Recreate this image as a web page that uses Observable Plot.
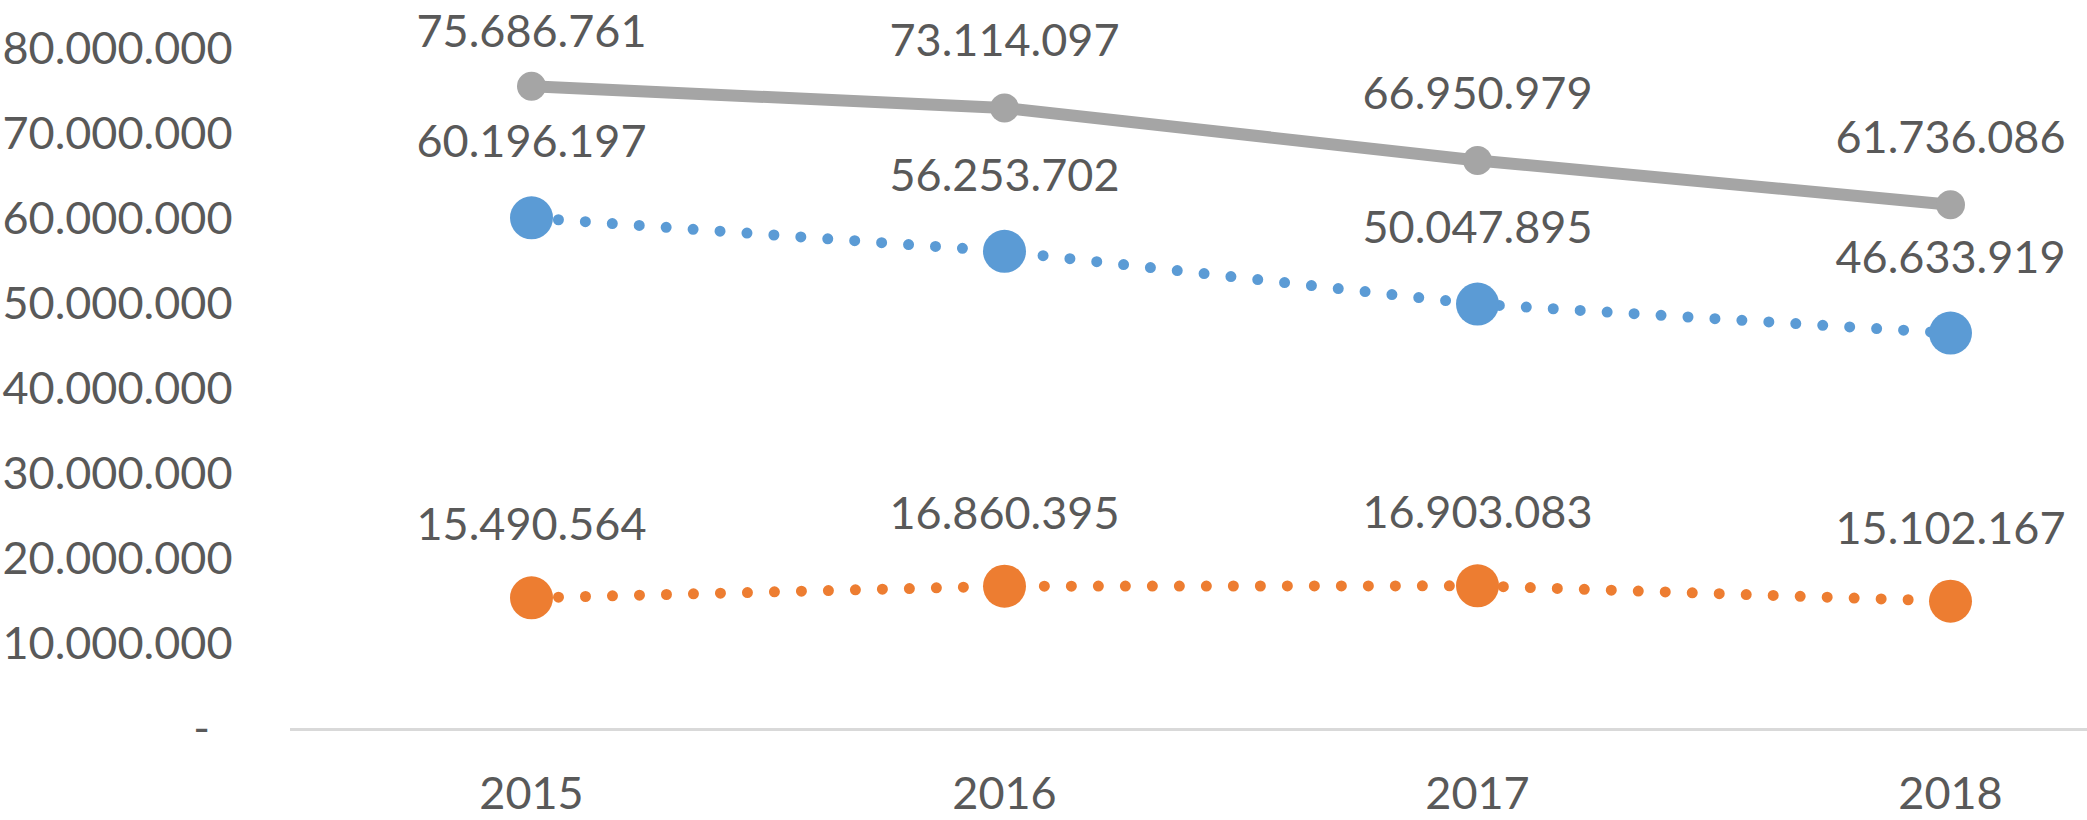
<!DOCTYPE html>
<html>
<head>
<meta charset="utf-8">
<script src="https://cdn.jsdelivr.net/npm/d3@7"></script>
<script src="https://cdn.jsdelivr.net/npm/@observablehq/plot@0.6"></script>
<style>
  html, body { margin: 0; padding: 0; background: #fff; overflow: hidden; }
  #chart svg { display: block; }
</style>
</head>
<body>
<div id="chart"></div>
<script>
// ---- data ----
const years = ["2015", "2016", "2017", "2018"];
const seriesTotal = [75686761, 73114097, 66950979, 61736086];
const seriesA = [60196197, 56253702, 50047895, 46633919];
const seriesB = [15490564, 16860395, 16903083, 15102167];
const yTicks = [0, 10000000, 20000000, 30000000, 40000000, 50000000, 60000000, 70000000, 80000000];

// ---- styling ----
const colors = {total: "#A5A5A5", a: "#5B9BD5", b: "#ED7D31"};
const textColor = "#595959";
const font = "Lato, 'Open Sans', sans-serif";
const labelTopLimit = 74.2e6; // keeps the top label inside the chart area

const locale = d3.formatLocale({decimal: ",", thousands: ".", grouping: [3], currency: ["", ""]});
const fmt = locale.format(",d");
const tickFmt = v => v === 0 ? "-\u2002" : fmt(v);

const rows = (key, values) => years.map((year, i) => ({key, year, value: values[i]}));
const total = rows("total", seriesTotal);
const a = rows("a", seriesA);
const b = rows("b", seriesB);

const chart = Plot.plot({
  width: 2087,
  height: 820,
  marginLeft: 290,
  marginRight: 0,
  marginTop: 49,
  marginBottom: 91,
  style: {fontFamily: font, fontSize: "45px", color: textColor, background: "#fff"},
  x: {type: "point", domain: years, range: [531, 1950], padding: 0},
  y: {domain: [0, 80000000]},
  marks: [
    Plot.ruleY([0], {stroke: "#D9D9D9", strokeWidth: 3}),
    Plot.axisY({ticks: yTicks, tickFormat: tickFmt, tickSize: 0, tickPadding: 58, fontSize: 45, label: null}),
    Plot.axisX({tickSize: 0, tickPadding: 48, fontSize: 45, label: null}),
    // dotted series
    Plot.line(a, {x: "year", y: "value", stroke: colors.a, strokeWidth: 11, strokeDasharray: "0 27", strokeLinecap: "round"}),
    Plot.line(b, {x: "year", y: "value", stroke: colors.b, strokeWidth: 11, strokeDasharray: "0 27", strokeLinecap: "round"}),
    Plot.dot(a, {x: "year", y: "value", r: 21.5, fill: colors.a}),
    Plot.dot(b, {x: "year", y: "value", r: 21.5, fill: colors.b}),
    // solid total series
    Plot.line(total, {x: "year", y: "value", stroke: colors.total, strokeWidth: 12}),
    Plot.dot(total, {x: "year", y: "value", r: 14.5, fill: colors.total}),
    // data labels
    Plot.text(total, {x: "year", y: d => Math.min(d.value, labelTopLimit), text: d => fmt(d.value), dy: -66, fill: textColor, fontSize: 45}),
    Plot.text(a, {x: "year", y: "value", text: d => fmt(d.value), dy: -75, fill: textColor, fontSize: 45}),
    Plot.text(b, {x: "year", y: "value", text: d => fmt(d.value), dy: -72, fill: textColor, fontSize: 45})
  ]
});
document.getElementById("chart").appendChild(chart);
</script>
</body>
</html>
